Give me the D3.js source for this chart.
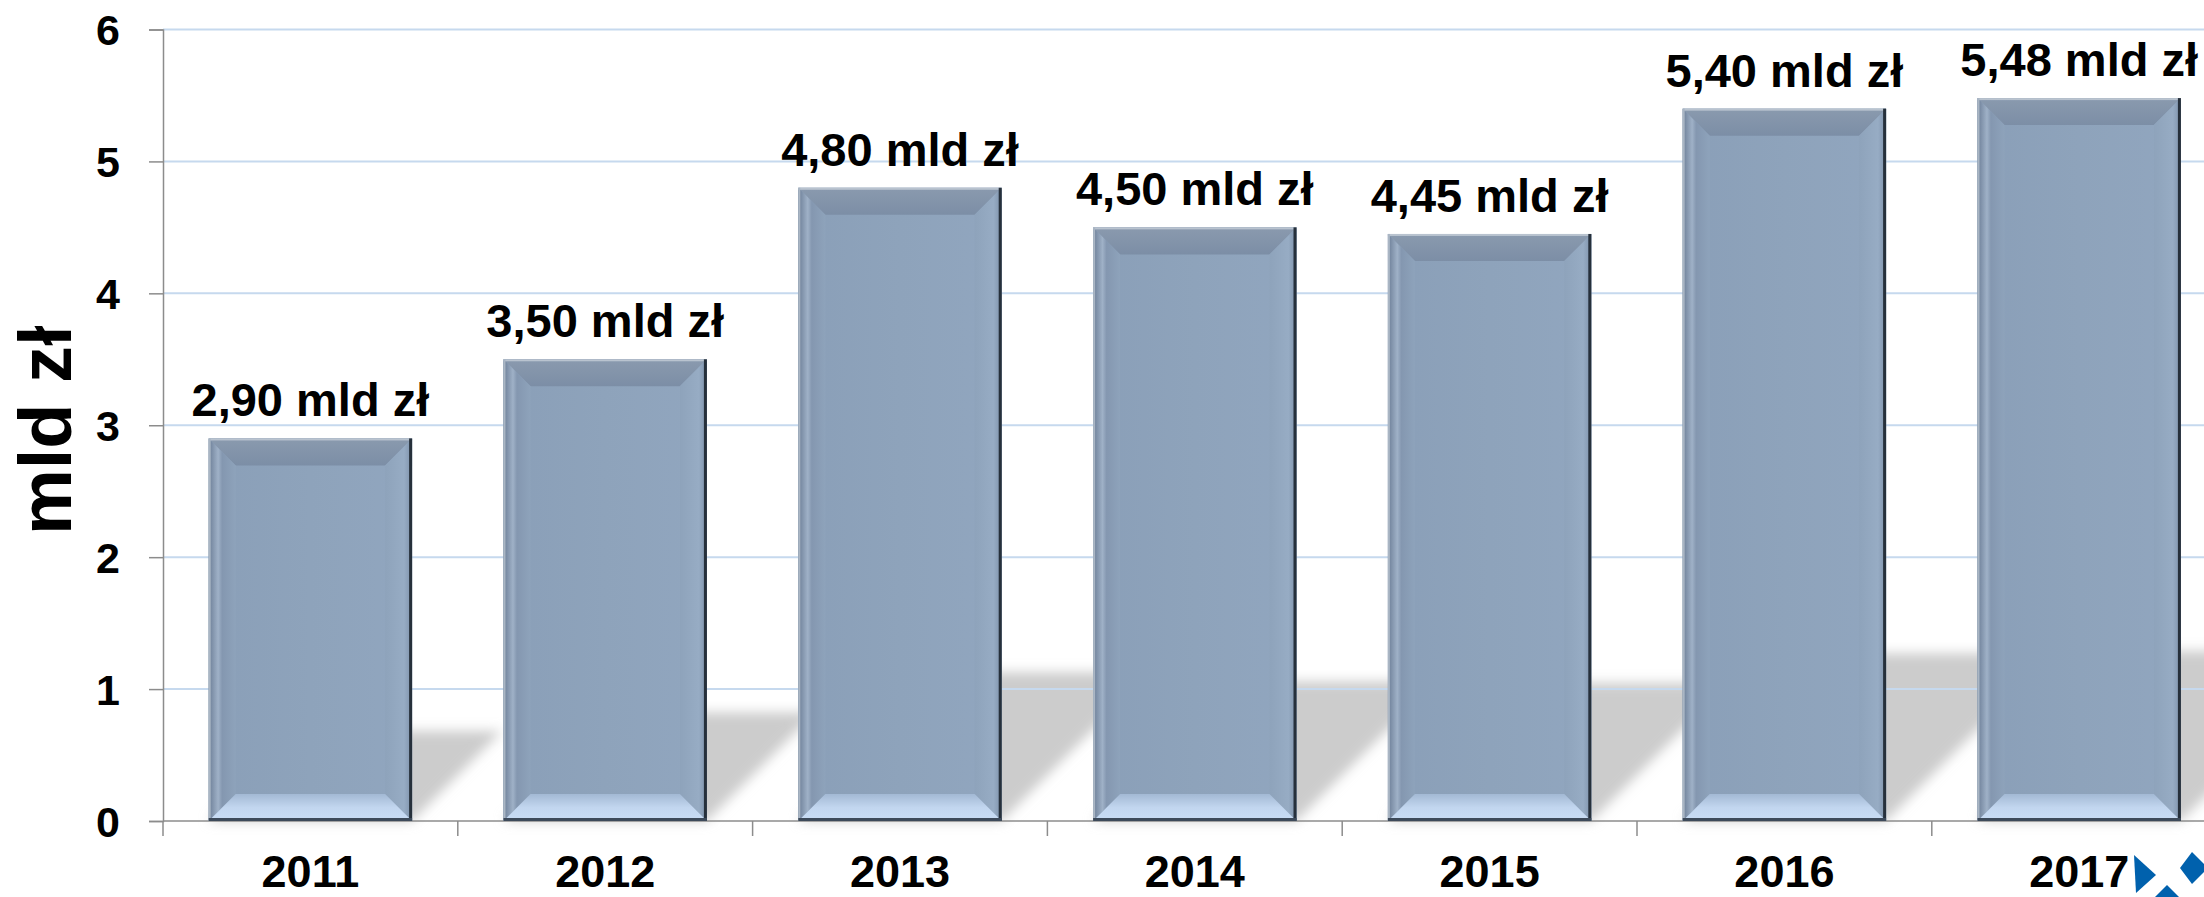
<!DOCTYPE html>
<html>
<head>
<meta charset="utf-8">
<script src="https://cdn.jsdelivr.net/npm/d3@7"></script>
<style>
  body { margin: 0; background: #fff; overflow: hidden; }
  text { font-family: "Liberation Sans", Arial, sans-serif; font-weight: bold; fill: #000; }
</style>
</head>
<body>
<div id="chart"></div>
<script>
const years = ["2011", "2012", "2013", "2014", "2015", "2016", "2017"];
const values = [2.90, 3.50, 4.80, 4.50, 4.45, 5.40, 5.48];
const yTicks = [0, 1, 2, 3, 4, 5, 6];
const unit = "mld zł";

(function () {
  const W = 2204, H = 897;
  const left = 163, top = 29.5, bottom = 821;
  const step = 294.8;
  const right = left + years.length * step;

  const svg = d3.select("#chart").append("svg")
    .attr("width", W).attr("height", H);

  const x = d3.scaleBand().domain(years).range([left, right])
    .paddingInner(0.31).paddingOuter(0.155);
  const y = d3.scaleLinear().domain([0, 6]).range([bottom, top]);

  const defs = svg.append("defs");
  defs.append("filter").attr("id", "blur")
    .attr("x", "-20%").attr("y", "-20%").attr("width", "140%").attr("height", "140%")
    .append("feGaussianBlur").attr("stdDeviation", 6);

  function grad(id, x2, y2, stops) {
    const g = defs.append("linearGradient").attr("id", id)
      .attr("x1", 0).attr("y1", 0).attr("x2", x2).attr("y2", y2);
    stops.forEach(s => g.append("stop").attr("offset", s[0]).attr("stop-color", s[1]));
  }
  grad("gLeft", 1, 0, [[0, "#6b7d96"], [0.35, "#9fb1c7"], [0.5, "#8497b0"], [1, "#8ea3bb"]]);
  grad("gRight", 1, 0, [[0, "#8ea3bb"], [0.7, "#97acc4"], [1, "#7d91aa"]]);
  grad("gTop", 0, 1, [[0, "#8a9aae"], [1, "#7c8ea6"]]);
  grad("gBottom", 0, 1, [[0, "#a3b9d4"], [0.5, "#c2d6ef"], [1, "#c9ddf5"]]);
  grad("gBody", 1, 0, [[0, "#8a9fb8"], [0.5, "#8ea3bb"], [1, "#91a6bf"]]);

  // perspective shadows behind bars
  svg.append("g").attr("filter", "url(#blur)")
    .selectAll("path").data(years).join("path")
    .attr("fill", "#cccccc")
    .attr("d", (d, i) => {
      const x0 = x(d), x1 = x(d) + x.bandwidth();
      const s = (y(0) - y(values[i])) * 0.235;
      return `M${x0},${y(0)} L${x1},${y(0)} L${x1 + s},${y(0) - s} L${x0 + s},${y(0) - s} Z`;
    });

  // gridlines
  svg.append("g")
    .selectAll("line").data(yTicks.filter(t => t > 0)).join("line")
    .attr("x1", left).attr("x2", W)
    .attr("y1", d => y(d)).attr("y2", d => y(d))
    .attr("stroke", "#c6d9ee").attr("stroke-width", 2);

  // y axis
  const yAxis = svg.append("g")
    .attr("transform", `translate(${left},0)`)
    .call(d3.axisLeft(y).tickValues(yTicks).tickSize(14).tickPadding(29).tickFormat(d3.format("d")));
  yAxis.selectAll("path, line").attr("stroke", "#8c8c8c").attr("stroke-width", 1.5);
  yAxis.selectAll("text").attr("font-size", 43).style("font-family", "Liberation Sans, Arial, sans-serif")
    .style("font-weight", "bold").attr("fill", "#000").attr("dy", "0.36em");

  // x axis baseline and boundary ticks
  svg.append("line").attr("x1", left).attr("x2", W)
    .attr("y1", y(0)).attr("y2", y(0)).attr("stroke", "#8c8c8c").attr("stroke-width", 1.5);
  svg.append("g").selectAll("line").data(years).join("line")
    .attr("x1", d => x(d) - x.step() * x.paddingInner() / 2)
    .attr("x2", d => x(d) - x.step() * x.paddingInner() / 2)
    .attr("y1", y(0)).attr("y2", y(0) + 15)
    .attr("stroke", "#8c8c8c").attr("stroke-width", 1.5);

  const xAxis = svg.append("g")
    .attr("transform", `translate(0,${y(0)})`)
    .call(d3.axisBottom(x).tickSize(0).tickPadding(0));
  xAxis.select(".domain").remove();
  xAxis.selectAll("text").attr("font-size", 45).style("font-family", "Liberation Sans, Arial, sans-serif")
    .style("font-weight", "bold").attr("fill", "#000").attr("dy", null).attr("y", 66);

  // bevelled bars
  const bev = 27;
  const bars = svg.append("g").selectAll("g").data(years).join("g")
    .attr("transform", (d, i) => `translate(${x(d)},${y(values[i])})`);
  bars.each(function (d, i) {
    const g = d3.select(this);
    const w = x.bandwidth(), h = y(0) - y(values[i]);
    g.append("rect").attr("width", w).attr("height", h).attr("fill", "url(#gBody)");
    g.append("path").attr("fill", "url(#gTop)")
      .attr("d", `M0,0 L${w},0 L${w - bev},${bev} L${bev},${bev} Z`);
    g.append("path").attr("fill", "url(#gLeft)")
      .attr("d", `M0,0 L${bev},${bev} L${bev},${h - bev} L0,${h} Z`);
    g.append("path").attr("fill", "url(#gRight)")
      .attr("d", `M${w},0 L${w},${h} L${w - bev},${h - bev} L${w - bev},${bev} Z`);
    g.append("path").attr("fill", "url(#gBottom)")
      .attr("d", `M0,${h} L${bev},${h - bev} L${w - bev},${h - bev} L${w},${h} Z`);
    g.append("rect").attr("x", 0).attr("y", 0).attr("width", w).attr("height", 2).attr("fill", "#b9c3cf");
    g.append("rect").attr("x", 0).attr("y", 0).attr("width", 2).attr("height", h).attr("fill", "#aab6c4");
    g.append("rect").attr("x", w - 3).attr("y", 0).attr("width", 3).attr("height", h).attr("fill", "#26303b");
    g.append("rect").attr("x", 0).attr("y", h - 3).attr("width", w).attr("height", 3).attr("fill", "#3d4a5a");
  });

  // value labels
  const fmt = v => d3.format(".2f")(v).replace(".", ",") + " " + unit;
  svg.append("g").selectAll("text").data(years).join("text")
    .attr("x", d => x(d) + x.bandwidth() / 2)
    .attr("y", (d, i) => y(values[i]) - 22)
    .attr("text-anchor", "middle")
    .attr("font-size", 47)
    .text((d, i) => fmt(values[i]));

  // y axis title
  svg.append("text")
    .attr("transform", `translate(71,${(top + bottom) / 2 + 5}) rotate(-90)`)
    .attr("text-anchor", "middle")
    .attr("font-size", 74)
    .text(unit);

  // logo fragment, bottom right
  const logo = svg.append("g").attr("fill", "#0061ad");
  logo.append("path").attr("d", "M2134,855 L2156,875 L2136,893 Z");
  logo.append("path").attr("d", "M2192,852 L2204,864 L2204,872 L2192,884 L2180,868 Z");
  logo.append("path").attr("d", "M2167,885 L2179,897 L2155,897 Z");
})();
</script>
</body>
</html>
